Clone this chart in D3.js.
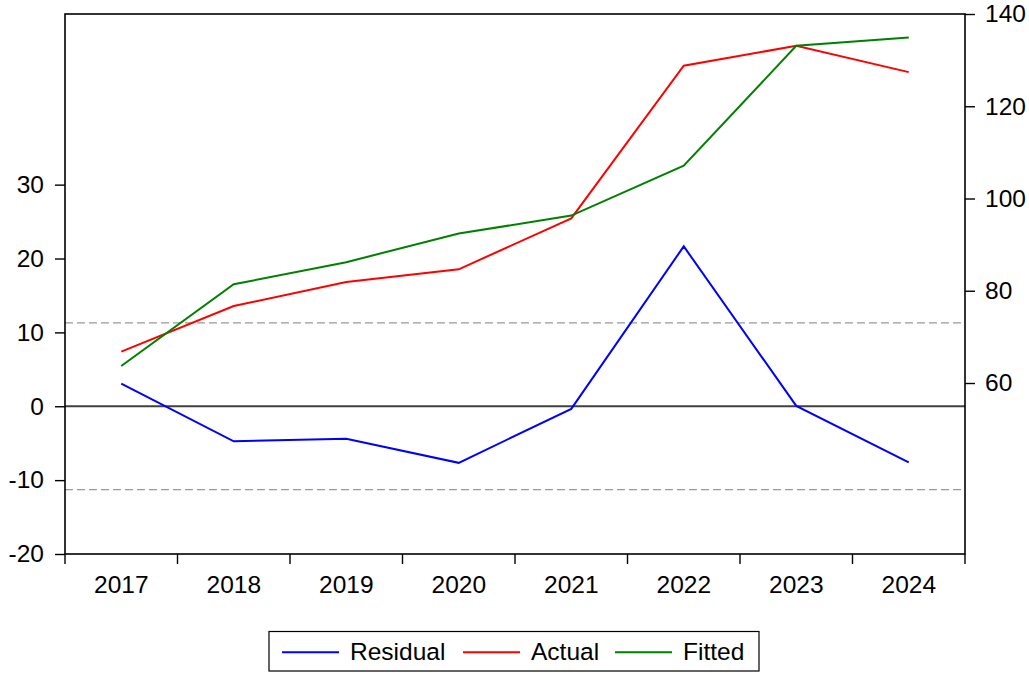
<!DOCTYPE html>
<html>
<head>
<meta charset="utf-8">
<script src="https://cdn.jsdelivr.net/npm/d3@7"></script>
<style>
  html, body { margin: 0; padding: 0; background: #fff; }
  svg { display: block; font-family: "Liberation Sans", Arial, sans-serif; }
</style>
</head>
<body>
<svg id="chart" width="1029" height="673"></svg>
<script>
const years = ["2017", "2018", "2019", "2020", "2021", "2022", "2023", "2024"];
const residual = [3.07, -4.74, -4.4, -7.66, -0.35, 21.65, 0.05, -7.6];
const actual = [66.8, 76.7, 81.9, 84.65, 95.7, 128.8, 133.1, 127.4];
const fitted = [63.7, 81.4, 86.2, 92.4, 96.3, 107.1, 133.1, 134.9];
const seBand = 11.28;
const leftTicks = [-20, -10, 0, 10, 20, 30];
const rightTicks = [60, 80, 100, 120, 140];
const legendItems = ["Residual", "Actual", "Fitted"];
const colors = ["#0000ff", "#ff0000", "#008000"];

const svg = d3.select("#chart");
const L = 65, R = 965, T = 14, B = 554;
const FS = "24.5px";

const x = d3.scaleBand().domain(years).range([L, R]);
const xc = d => x(d) + x.bandwidth() / 2;
const yL = d3.scaleLinear().domain([-20, 53.1]).range([B, T]);
const yR = d3.scaleLinear().domain([22.93, 140]).range([B, T]);

// reference lines
svg.selectAll("line.se").data([seBand, -seBand]).enter().append("line")
  .attr("x1", L).attr("x2", R)
  .attr("y1", d => yL(d)).attr("y2", d => yL(d))
  .attr("stroke", "#999").attr("stroke-width", 1.2).attr("stroke-dasharray", "8,4");
svg.append("line")
  .attr("x1", L).attr("x2", R).attr("y1", yL(0)).attr("y2", yL(0))
  .attr("stroke", "#404040").attr("stroke-width", 2);

// series
const lineL = d3.line().x((d, i) => xc(years[i])).y(d => yL(d));
const lineR = d3.line().x((d, i) => xc(years[i])).y(d => yR(d));
svg.append("path").attr("d", lineL(residual)).attr("fill", "none")
  .attr("stroke", colors[0]).attr("stroke-width", 2);
svg.append("path").attr("d", lineR(actual)).attr("fill", "none")
  .attr("stroke", colors[1]).attr("stroke-width", 2);
svg.append("path").attr("d", lineR(fitted)).attr("fill", "none")
  .attr("stroke", colors[2]).attr("stroke-width", 2);

// frame
svg.append("rect").attr("x", L).attr("y", T).attr("width", R - L).attr("height", B - T)
  .attr("fill", "none").attr("stroke", "#000").attr("stroke-width", 1.6);

// axes
function styleAxis(g) {
  g.select(".domain").remove();
  g.selectAll(".tick line").attr("stroke", "#000").attr("stroke-width", 1.4);
  g.selectAll("text").attr("font-size", FS).attr("fill", "#000")
    .attr("font-family", "Liberation Sans, Arial, sans-serif");
}
const fmt = d => String(d);
svg.append("g").attr("transform", `translate(${L},0)`)
  .call(d3.axisLeft(yL).tickValues(leftTicks).tickSize(10).tickPadding(11).tickFormat(fmt))
  .call(styleAxis);
svg.append("g").attr("transform", `translate(${R},0)`)
  .call(d3.axisRight(yR).tickValues(rightTicks).tickSize(10).tickPadding(10).tickFormat(fmt))
  .call(styleAxis);
svg.append("g").attr("transform", `translate(0,${B})`)
  .call(d3.axisBottom(x).tickSize(0).tickPadding(22))
  .call(styleAxis);
// bottom tick marks at band boundaries
const bounds = years.map(d => x(d)).concat([x.range()[1]]);
svg.selectAll("line.xt").data(bounds).enter().append("line")
  .attr("x1", d => d).attr("x2", d => d).attr("y1", B).attr("y2", B + 10)
  .attr("stroke", "#000").attr("stroke-width", 1.4);

// legend
const lg = svg.append("g");
lg.append("rect").attr("x", 269).attr("y", 631.5).attr("width", 490).attr("height", 39.5)
  .attr("fill", "#fff").attr("stroke", "#000").attr("stroke-width", 1.2);
const lineStarts = [282, 463, 615];
legendItems.forEach((name, i) => {
  lg.append("line").attr("x1", lineStarts[i]).attr("x2", lineStarts[i] + 57)
    .attr("y1", 652.3).attr("y2", 652.3).attr("stroke", colors[i]).attr("stroke-width", 2);
  lg.append("text").attr("x", lineStarts[i] + 68).attr("y", 660)
    .attr("font-size", FS).attr("fill", "#000").text(name);
});
</script>
</body>
</html>
